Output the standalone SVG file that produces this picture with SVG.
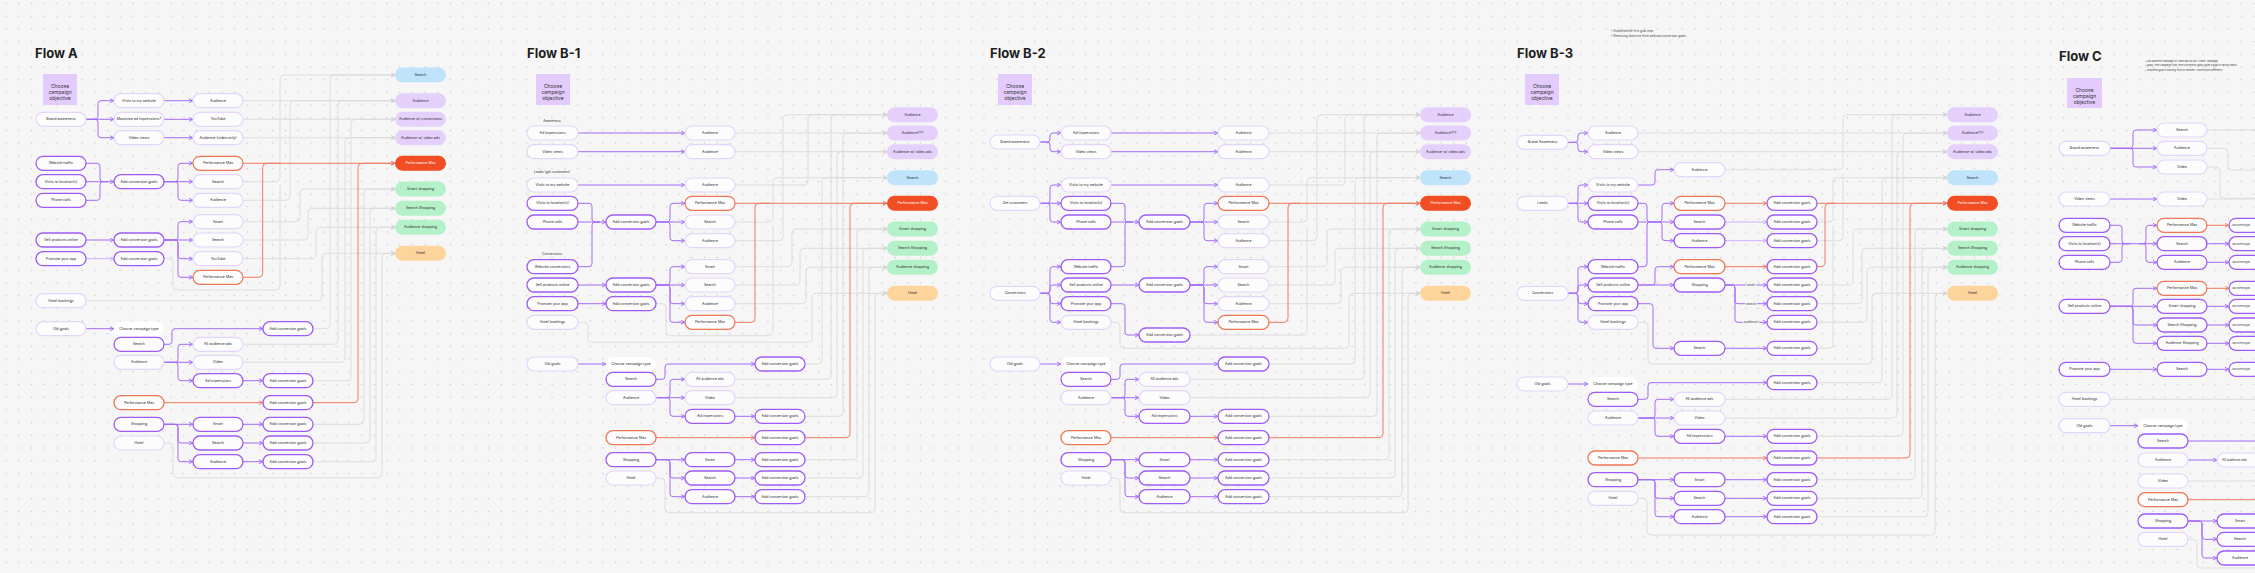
<svg xmlns="http://www.w3.org/2000/svg" width="2255" height="573" viewBox="0 0 2255 573">
<defs>
<pattern id="dots" x="-0.35" y="9.85" width="12.7" height="12.7" patternUnits="userSpaceOnUse"><circle cx="6.35" cy="6.35" r="0.75" fill="#c8c8c8"/></pattern>
<marker id="ap" viewBox="0 0 5 5" refX="4.6" refY="2.5" markerWidth="5" markerHeight="5" markerUnits="userSpaceOnUse" orient="auto"><path d="M0.6,0.5 L4.5,2.5 L0.6,4.5" fill="none" stroke="#a46cf7" stroke-width="0.9"/></marker>
<marker id="al" viewBox="0 0 5 5" refX="4.6" refY="2.5" markerWidth="5" markerHeight="5" markerUnits="userSpaceOnUse" orient="auto"><path d="M0.6,0.5 L4.5,2.5 L0.6,4.5" fill="none" stroke="#cdb0fb" stroke-width="0.9"/></marker>
<marker id="ao" viewBox="0 0 5 5" refX="4.6" refY="2.5" markerWidth="5" markerHeight="5" markerUnits="userSpaceOnUse" orient="auto"><path d="M0.6,0.5 L4.5,2.5 L0.6,4.5" fill="none" stroke="#f07a5c" stroke-width="0.9"/></marker>
<marker id="ag" viewBox="0 0 5 5" refX="4.6" refY="2.5" markerWidth="5" markerHeight="5" markerUnits="userSpaceOnUse" orient="auto"><path d="M0.6,0.5 L4.5,2.5 L0.6,4.5" fill="none" stroke="#cfcfcf" stroke-width="0.9"/></marker>
</defs>
<style>
.n rect{fill:#fcfcfd;stroke:#e3d5fc;stroke-width:1.2}
.b rect{fill:#fcfcfd;stroke:#9d5cf6;stroke-width:1.3}
.o rect{fill:#fcfcfd;stroke:#f07656;stroke-width:1.3}
.w rect{fill:#ffffff}
.lg rect{stroke:none}
.lb rect{fill:#bfe3fb}.lp rect{fill:#e5d0fc}.lr rect{fill:#f24e23}.lgn rect{fill:#b4f1c8}.lo rect{fill:#fdd59c}
.lr text{fill:#ffffff}
.obj rect{fill:#e3cbfd}
.obj text{font-family:Inter,'Liberation Sans',sans-serif;font-size:5px;fill:#333;text-anchor:middle}
text.t,g text{font-family:Inter,'Liberation Sans',sans-serif;font-size:3.6px;fill:#2b2b2b;text-anchor:middle;dominant-baseline:central}
g text.st{text-anchor:start}
g text.tiny{font-size:1.9px}
g text.sm{font-size:3.2px}
.title{font-family:Inter,'Liberation Sans',sans-serif;font-size:13px;font-weight:700;fill:#1e1e1e}
.note{font-family:Inter,'Liberation Sans',sans-serif;font-size:3px;fill:#444}
.note2{font-family:Inter,'Liberation Sans',sans-serif;font-size:2.4px;fill:#444}
.lbl{font-family:Inter,'Liberation Sans',sans-serif;font-size:3.4px;fill:#333;text-anchor:middle;dominant-baseline:central}
.sl{font-family:Inter,'Liberation Sans',sans-serif;font-size:3.2px;fill:#444;text-anchor:middle;dominant-baseline:central;stroke:#f6f6f6;stroke-width:2;paint-order:stroke}
.c path{fill:none}
.cp path{stroke:#a46cf7;stroke-width:1}
.cl path{stroke:#cdb0fb;stroke-width:1}
.co path{stroke:#f07a5c;stroke-width:1}
.cg path{stroke:#dadada;stroke-width:0.9}
</style>
<rect width="2255" height="573" fill="#f6f6f6"/>
<rect width="2255" height="573" fill="url(#dots)"/>

<!-- titles and notes -->
<text class="title" x="35" y="57.5">Flow A</text>
<text class="title" x="527" y="57.5">Flow B-1</text>
<text class="title" x="990" y="57.5">Flow B-2</text>
<text class="title" x="1517" y="57.5">Flow B-3</text>
<text class="title" x="2059" y="60.5">Flow C</text>
<text class="note" x="1611" y="32">• Simplified the first goal step</text>
<text class="note" x="1611" y="36.7">• Removing objective from website/conversion goals</text>
<text class="note2" x="2145" y="62">• call audience campaign w/ video ads as just "Video" campaign</text>
<text class="note2" x="2145" y="66.3">• goals, then campaign type, then conversion goals (goes a goal to narrow down)</text>
<text class="note2" x="2145" y="70.6">• simplified goals choosing visits to website / conversions differently</text>

<!-- ================= CONNECTORS ================= -->
<g id="connectors" class="c">
<!-- Flow A gray -->
<g class="cg" marker-end="url(#ag)">
<path d="M243 100.7 H395"/><path d="M243 119.3 H395"/><path d="M243 137.7 H395"/>
<path d="M243 181.7 H276 Q280 181.7 280 177.7 V79 Q280 75 284 75 H395"/>
<path d="M243 200.3 H286 Q290 200.3 290 196.3 V104.7 Q290 100.7 294 100.7 H395"/>
<path d="M243 221.7 H296 Q300 221.7 300 217.7 V193 Q300 189 304 189 H395"/>
<path d="M243 240 H304 Q308 240 308 236 V212.3 Q308 208.3 312 208.3 H395"/>
<path d="M243 258.7 H312 Q316 258.7 316 254.7 V231.3 Q316 227.3 320 227.3 H395"/>
<path d="M86 300.7 H318 Q322 300.7 322 296.7 V257.3 Q322 253.3 326 253.3 H395"/>
<path d="M313 328.7 H326 Q330 328.7 330 324.7 V79 Q330 75 334 75 H395"/>
<path d="M243 344.3 H334 Q338 344.3 338 340.3 V104.7 Q338 100.7 342 100.7 H395"/>
<path d="M243 362.3 H341 Q345 362.3 345 358.3 V141.7 Q345 137.7 349 137.7 H395"/>
<path d="M313 380.7 H347 Q351 380.7 351 376.7 V123.3 Q351 119.3 355 119.3 H395"/>
<path d="M313 424.3 H360 Q364 424.3 364 420.3 V193 Q364 189 368 189 H395"/>
<path d="M313 443 H366 Q370 443 370 439 V212.3 Q370 208.3 374 208.3 H395"/>
<path d="M313 461.7 H372 Q376 461.7 376 457.7 V231.3 Q376 227.3 380 227.3 H395"/>
<path d="M164 443 H169 Q173 443 173 447 V473.7 Q173 477.7 177 477.7 H378 Q382 477.7 382 473.7 V257.3 Q382 253.3 386 253.3 H395"/>
</g>
<g class="cg"><path d="M164 258.7 H169 Q173 258.7 173 262.7 V286 Q173 290 177 290 H276 Q280 290 280 286 V185"/></g>
<g class="co"><path d="M243 163.3 H395" marker-end="url(#ao)"/><path d="M243 277.3 H258.7 Q262.7 277.3 262.7 273.3 V167.3 Q262.7 163.3 266.7 163.3 H280"/><path d="M313 402.7 H354 Q358 402.7 358 398.7 V167.3 Q358 163.3 362 163.3 H395" marker-end="url(#ao)"/></g>
<!-- Flow A purple -->
<g class="cp" marker-end="url(#ap)">
<path d="M86 119.3 H95 Q98 119.3 98 116.3 V103.7 Q98 100.7 101 100.7 H114"/><path d="M86 119.3 H114"/><path d="M86 119.3 H95 Q98 119.3 98 122.3 V134.7 Q98 137.7 101 137.7 H114"/>
<path d="M164 100.7 H193"/><path d="M164 119.3 H193"/><path d="M164 137.7 H193"/>
<path d="M86 181.7 H114"/>
<path d="M164 181.7 H175 Q178 181.7 178 178.7 V166.3 Q178 163.3 181 163.3 H193"/><path d="M164 181.7 H193"/><path d="M164 181.7 H175 Q178 181.7 178 184.7 V197.3 Q178 200.3 181 200.3 H193"/>
<path d="M86 240 H114"/>
<path d="M164 240 H175 Q178 240 178 237 V224.7 Q178 221.7 181 221.7 H193"/><path d="M164 240 H193"/><path d="M164 240 H175 Q178 240 178 243 V255.7 Q178 258.7 181 258.7 H193"/><path d="M164 240 H175 Q178 240 178 243 V274.3 Q178 277.3 181 277.3 H193"/>
<path d="M86 328.7 H114"/>
<path d="M164 344.3 H169 Q172 344.3 172 341.3 V331.7 Q172 328.7 175 328.7 H263"/>
<path d="M164 362.3 H175 Q178 362.3 178 359.3 V347.3 Q178 344.3 181 344.3 H193"/><path d="M164 362.3 H193"/><path d="M164 362.3 H175 Q178 362.3 178 365.3 V377.7 Q178 380.7 181 380.7 H193"/>
<path d="M243 380.7 H263"/>
<path d="M164 424.3 H193"/><path d="M164 424.3 H175 Q178 424.3 178 427.3 V440 Q178 443 181 443 H193"/><path d="M164 424.3 H175 Q178 424.3 178 427.3 V458.7 Q178 461.7 181 461.7 H193"/>
<path d="M243 424.3 H263"/><path d="M243 443 H263"/><path d="M243 461.7 H263"/>
</g>
<g class="cp"><path d="M86 163.3 H97 Q100 163.3 100 166.3 V178.7 Q100 181.7 103 181.7 H108"/><path d="M86 200.3 H97 Q100 200.3 100 197.3 V184.7 Q100 181.7 103 181.7 H108"/></g>
<g class="cl"><path d="M86 258.7 H114" marker-end="url(#al)"/></g>
<g class="co"><path d="M164 402.7 H263" marker-end="url(#ao)"/></g>

<!-- Flow B-1 gray -->
<g class="cg" marker-end="url(#ag)">
<path d="M735 133 H887"/><path d="M735 151.7 H887"/>
<path d="M735 185 H804 Q808 185 808 181 V118.7 Q808 114.7 812 114.7 H887"/>
<path d="M735 222 H769 Q773 222 773 218 V181.7 Q773 177.7 777 177.7 H887"/>
<path d="M735 240.7 H779 Q783 240.7 783 236.7 V118.7 Q783 114.7 787 114.7 H887"/>
<path d="M735 266.7 H788 Q792 266.7 792 262.7 V233 Q792 229 796 229 H887"/>
<path d="M735 285 H796 Q800 285 800 281 V252.3 Q800 248.3 804 248.3 H887"/>
<path d="M735 303.7 H802 Q806 303.7 806 299.7 V271.3 Q806 267.3 810 267.3 H887"/>
<path d="M578 322.3 H584 Q588 322.3 588 326.3 V338.3 Q588 342.3 592 342.3 H808 Q812 342.3 812 338.3 V297.3 Q812 293.3 816 293.3 H887"/>
<path d="M805 364 H818 Q822 364 822 360 V181.7 Q822 177.7 826 177.7 H887"/>
<path d="M735 379.3 H827 Q831 379.3 831 375.3 V118.7 Q831 114.7 835 114.7 H887"/>
<path d="M735 397.7 H833 Q837 397.7 837 393.7 V155.7 Q837 151.7 841 151.7 H887"/>
<path d="M805 416.3 H839 Q843 416.3 843 412.3 V137 Q843 133 847 133 H887"/>
<path d="M805 459.7 H853 Q857 459.7 857 455.7 V233 Q857 229 861 229 H887"/>
<path d="M805 478 H859 Q863 478 863 474 V252.3 Q863 248.3 867 248.3 H887"/>
<path d="M805 496.7 H865 Q869 496.7 869 492.7 V271.3 Q869 267.3 873 267.3 H887"/>
<path d="M656 478 H661 Q665 478 665 482 V508.7 Q665 512.7 669 512.7 H871 Q875 512.7 875 508.7 V297.3 Q875 293.3 879 293.3 H887"/>
</g>
<g class="cg"><path d="M656 303.7 H662 Q666 303.7 666 307.7 V331.7 Q666 335.7 670 335.7 H769 Q773 335.7 773 331.7 V226"/></g>
<g class="co"><path d="M735 203.3 H887" marker-end="url(#ao)"/><path d="M735 322.3 H751 Q755 322.3 755 318.3 V207.3 Q755 203.3 759 203.3 H770"/><path d="M805 437.7 H846 Q850 437.7 850 433.7 V207.3 Q850 203.3 854 203.3 H887" marker-end="url(#ao)"/></g>
<!-- Flow B-1 purple -->
<g class="cp" marker-end="url(#ap)">
<path d="M578 133 H685"/><path d="M578 151.7 H685"/><path d="M578 185 H685"/>
<path d="M578 222 H606"/>
<path d="M656 222 H667 Q670 222 670 219 V206.3 Q670 203.3 673 203.3 H685"/><path d="M656 222 H685"/><path d="M656 222 H667 Q670 222 670 225 V237.7 Q670 240.7 673 240.7 H685"/>
<path d="M578 285 H606"/>
<path d="M656 285 H667 Q670 285 670 282 V269.7 Q670 266.7 673 266.7 H685"/><path d="M656 285 H685"/><path d="M656 285 H667 Q670 285 670 288 V300.7 Q670 303.7 673 303.7 H685"/><path d="M656 285 H667 Q670 285 670 288 V319.3 Q670 322.3 673 322.3 H685"/>
<path d="M578 303.7 H606"/>
<path d="M578 364 H606"/>
<path d="M656 379.3 H662 Q665 379.3 665 376.3 V367 Q665 364 668 364 H755"/>
<path d="M656 397.7 H667 Q670 397.7 670 394.7 V382.3 Q670 379.3 673 379.3 H685"/><path d="M656 397.7 H685"/><path d="M656 397.7 H667 Q670 397.7 670 400.7 V413.3 Q670 416.3 673 416.3 H685"/>
<path d="M735 416.3 H755"/>
<path d="M656 459.7 H685"/><path d="M656 459.7 H667 Q670 459.7 670 462.7 V475 Q670 478 673 478 H685"/><path d="M656 459.7 H667 Q670 459.7 670 462.7 V493.7 Q670 496.7 673 496.7 H685"/>
<path d="M735 459.7 H755"/><path d="M735 478 H755"/><path d="M735 496.7 H755"/>
</g>
<g class="cp"><path d="M578 203.3 H589 Q592 203.3 592 206.3 V219 Q592 222 595 222 H600"/><path d="M578 266.7 H589 Q592 266.7 592 263.7 V225 Q592 222 595 222 H600"/></g>
<g class="co"><path d="M656 437.7 H755" marker-end="url(#ao)"/></g>

<!-- Flow B-2 gray -->
<g class="cg" marker-end="url(#ag)">
<path d="M1269 133 H1420"/><path d="M1269 151.7 H1420"/>
<path d="M1269 185 H1341 Q1345 185 1345 181 V118.7 Q1345 114.7 1349 114.7 H1420"/>
<path d="M1269 222 H1303 Q1307 222 1307 218 V181.7 Q1307 177.7 1311 177.7 H1420"/>
<path d="M1269 240.7 H1313 Q1317 240.7 1317 236.7 V118.7 Q1317 114.7 1321 114.7 H1420"/>
<path d="M1269 266.7 H1323 Q1327 266.7 1327 262.7 V233 Q1327 229 1331 229 H1420"/>
<path d="M1269 285 H1331 Q1335 285 1335 281 V252.3 Q1335 248.3 1339 248.3 H1420"/>
<path d="M1269 303.7 H1337 Q1341 303.7 1341 299.7 V271.3 Q1341 267.3 1345 267.3 H1420"/>
<path d="M1111 322.3 H1116 Q1120 322.3 1120 326.3 V344.3 Q1120 348.3 1124 348.3 H1345 Q1349 348.3 1349 344.3 V297.3 Q1349 293.3 1353 293.3 H1420"/>
<path d="M1269 364 H1351 Q1355 364 1355 360 V181.7 Q1355 177.7 1359 177.7 H1420"/>
<path d="M1190 379.3 H1360 Q1364 379.3 1364 375.3 V118.7 Q1364 114.7 1368 114.7 H1420"/>
<path d="M1190 397.7 H1366 Q1370 397.7 1370 393.7 V155.7 Q1370 151.7 1374 151.7 H1420"/>
<path d="M1269 416.3 H1373 Q1377 416.3 1377 412.3 V137 Q1377 133 1381 133 H1420"/>
<path d="M1269 459.7 H1385 Q1389 459.7 1389 455.7 V233 Q1389 229 1393 229 H1420"/>
<path d="M1269 478 H1391 Q1395 478 1395 474 V252.3 Q1395 248.3 1399 248.3 H1420"/>
<path d="M1269 496.7 H1398 Q1402 496.7 1402 492.7 V271.3 Q1402 267.3 1406 267.3 H1420"/>
<path d="M1111 478 H1116 Q1120 478 1120 482 V508.7 Q1120 512.7 1124 512.7 H1404 Q1408 512.7 1408 508.7 V297.3 Q1408 293.3 1412 293.3 H1420"/>
</g>
<g class="cg"><path d="M1190 335 H1303 Q1307 335 1307 331 V226"/></g>
<g class="co"><path d="M1269 203.3 H1420" marker-end="url(#ao)"/><path d="M1269 322.3 H1284 Q1288 322.3 1288 318.3 V207.3 Q1288 203.3 1292 203.3 H1300"/><path d="M1269 437.7 H1379 Q1383 437.7 1383 433.7 V207.3 Q1383 203.3 1387 203.3 H1420" marker-end="url(#ao)"/></g>
<!-- Flow B-2 purple -->
<g class="cp" marker-end="url(#ap)">
<path d="M1040 142 H1047 Q1050 142 1050 139 V136 Q1050 133 1053 133 H1061"/><path d="M1040 142 H1047 Q1050 142 1050 145 V148.7 Q1050 151.7 1053 151.7 H1061"/>
<path d="M1111 133 H1218"/><path d="M1111 151.7 H1218"/>
<path d="M1040 203.3 H1047 Q1050 203.3 1050 200.3 V188 Q1050 185 1053 185 H1061"/><path d="M1040 203.3 H1061"/><path d="M1040 203.3 H1047 Q1050 203.3 1050 206.3 V219 Q1050 222 1053 222 H1061"/>
<path d="M1111 185 H1218"/>
<path d="M1111 222 H1139"/>
<path d="M1190 222 H1201 Q1204 222 1204 219 V206.3 Q1204 203.3 1207 203.3 H1218"/><path d="M1190 222 H1218"/><path d="M1190 222 H1201 Q1204 222 1204 225 V237.7 Q1204 240.7 1207 240.7 H1218"/>
<path d="M1040 293.3 H1047 Q1050 293.3 1050 290.3 V269.7 Q1050 266.7 1053 266.7 H1061"/><path d="M1040 293.3 H1047 Q1050 293.3 1050 290.3 V288 Q1050 285 1053 285 H1061"/><path d="M1040 293.3 H1047 Q1050 293.3 1050 296.3 V300.7 Q1050 303.7 1053 303.7 H1061"/><path d="M1040 293.3 H1047 Q1050 293.3 1050 296.3 V319.3 Q1050 322.3 1053 322.3 H1061"/>
<path d="M1111 285 H1139"/>
<path d="M1190 285 H1201 Q1204 285 1204 282 V269.7 Q1204 266.7 1207 266.7 H1218"/><path d="M1190 285 H1218"/><path d="M1190 285 H1201 Q1204 285 1204 288 V300.7 Q1204 303.7 1207 303.7 H1218"/><path d="M1190 285 H1201 Q1204 285 1204 288 V319.3 Q1204 322.3 1207 322.3 H1218"/>
<path d="M1111 303.7 H1122 Q1125 303.7 1125 306.7 V332 Q1125 335 1128 335 H1139"/>
<path d="M1040 364 H1061"/>
<path d="M1111 379.3 H1117 Q1120 379.3 1120 376.3 V367 Q1120 364 1123 364 H1218"/>
<path d="M1111 397.7 H1122 Q1125 397.7 1125 394.7 V382.3 Q1125 379.3 1128 379.3 H1139"/><path d="M1111 397.7 H1139"/><path d="M1111 397.7 H1122 Q1125 397.7 1125 400.7 V413.3 Q1125 416.3 1128 416.3 H1139"/>
<path d="M1190 416.3 H1218"/>
<path d="M1111 459.7 H1139"/><path d="M1111 459.7 H1122 Q1125 459.7 1125 462.7 V475 Q1125 478 1128 478 H1139"/><path d="M1111 459.7 H1122 Q1125 459.7 1125 462.7 V493.7 Q1125 496.7 1128 496.7 H1139"/>
<path d="M1190 459.7 H1218"/><path d="M1190 478 H1218"/><path d="M1190 496.7 H1218"/>
</g>
<g class="cp"><path d="M1111 203.3 H1122 Q1125 203.3 1125 206.3 V219 Q1125 222 1128 222 H1133"/><path d="M1111 266.7 H1122 Q1125 266.7 1125 263.7 V225 Q1125 222 1128 222 H1133"/></g>
<g class="co"><path d="M1111 437.7 H1218" marker-end="url(#ao)"/></g>

<!-- Flow B-3 gray -->
<g class="cg" marker-end="url(#ag)">
<path d="M1638 133 H1947"/><path d="M1638 151.7 H1947"/>
<path d="M1725 169.7 H1839 Q1843 169.7 1843 165.7 V118.7 Q1843 114.7 1847 114.7 H1947"/>
<path d="M1817 222 H1829 Q1833 222 1833 218 V181.7 Q1833 177.7 1837 177.7 H1947"/>
<path d="M1817 285 H1849 Q1853 285 1853 281 V233 Q1853 229 1857 229 H1947"/>
<path d="M1817 303.7 H1858 Q1862 303.7 1862 299.7 V252.3 Q1862 248.3 1866 248.3 H1947"/>
<path d="M1817 322.3 H1863 Q1867 322.3 1867 318.3 V271.3 Q1867 267.3 1871 267.3 H1947"/>
<path d="M1638 322.3 H1644 Q1648 322.3 1648 326.3 V360 Q1648 364 1652 364 H1868 Q1872 364 1872 360 V297.3 Q1872 293.3 1876 293.3 H1947"/>
<path d="M1817 382.7 H1878 Q1882 382.7 1882 378.7 V181.7 Q1882 177.7 1886 177.7 H1947"/>
<path d="M1725 399.3 H1888 Q1892 399.3 1892 395.3 V118.7 Q1892 114.7 1896 114.7 H1947"/>
<path d="M1725 418 H1893 Q1897 418 1897 414 V155.7 Q1897 151.7 1901 151.7 H1947"/>
<path d="M1817 436.3 H1899 Q1903 436.3 1903 432.3 V137 Q1903 133 1907 133 H1947"/>
<path d="M1817 479.7 H1911 Q1915 479.7 1915 475.7 V233 Q1915 229 1919 229 H1947"/>
<path d="M1817 498.3 H1918 Q1922 498.3 1922 494.3 V252.3 Q1922 248.3 1926 248.3 H1947"/>
<path d="M1817 516.7 H1924 Q1928 516.7 1928 512.7 V271.3 Q1928 267.3 1932 267.3 H1947"/>
<path d="M1638 498.3 H1643 Q1647 498.3 1647 502.3 V531 Q1647 535 1651 535 H1931 Q1935 535 1935 531 V297.3 Q1935 293.3 1939 293.3 H1947"/>
</g>
<g class="cg"><path d="M1817 240.7 H1839 Q1843 240.7 1843 236.7 V173"/><path d="M1817 348.3 H1829 Q1833 348.3 1833 344.3 V226"/></g>
<g class="co"><path d="M1817 203.3 H1947" marker-end="url(#ao)"/><path d="M1817 266.7 H1821 Q1825 266.7 1825 262.7 V207.3 Q1825 203.3 1829 203.3 H1835"/><path d="M1817 458 H1906 Q1910 458 1910 454 V207.3 Q1910 203.3 1914 203.3 H1947" marker-end="url(#ao)"/></g>
<!-- Flow B-3 purple -->
<g class="cp" marker-end="url(#ap)">
<path d="M1568 142.3 H1575 Q1578 142.3 1578 139.3 V136 Q1578 133 1581 133 H1588"/><path d="M1568 142.3 H1575 Q1578 142.3 1578 145.3 V148.7 Q1578 151.7 1581 151.7 H1588"/>
<path d="M1568 203.3 H1575 Q1578 203.3 1578 200.3 V188 Q1578 185 1581 185 H1588"/><path d="M1568 203.3 H1588"/><path d="M1568 203.3 H1575 Q1578 203.3 1578 206.3 V219 Q1578 222 1581 222 H1588"/>
<path d="M1638 185 H1652 Q1655 185 1655 182 V172.7 Q1655 169.7 1658 169.7 H1674"/>
<path d="M1638 222 H1674"/>
<path d="M1655 222 H1659 Q1662 222 1662 219 V206.3 Q1662 203.3 1665 203.3 H1674"/><path d="M1655 222 H1659 Q1662 222 1662 225 V237.7 Q1662 240.7 1665 240.7 H1674"/>
<path d="M1568 293.3 H1575 Q1578 293.3 1578 290.3 V269.7 Q1578 266.7 1581 266.7 H1588"/><path d="M1568 293.3 H1575 Q1578 293.3 1578 290.3 V288 Q1578 285 1581 285 H1588"/><path d="M1568 293.3 H1575 Q1578 293.3 1578 296.3 V300.7 Q1578 303.7 1581 303.7 H1588"/><path d="M1568 293.3 H1575 Q1578 293.3 1578 296.3 V319.3 Q1578 322.3 1581 322.3 H1588"/>
<path d="M1638 285 H1652 Q1655 285 1655 282 V269.7 Q1655 266.7 1658 266.7 H1674"/><path d="M1638 285 H1674"/>
<path d="M1725 285 H1767"/><path d="M1725 285 H1732 Q1735 285 1735 288 V300.7 Q1735 303.7 1738 303.7 H1767"/><path d="M1725 285 H1732 Q1735 285 1735 288 V319.3 Q1735 322.3 1738 322.3 H1767"/>
<path d="M1638 303.7 H1650 Q1653 303.7 1653 306.7 V345.3 Q1653 348.3 1656 348.3 H1674"/>
<path d="M1725 348.3 H1767"/>
<path d="M1568 384 H1588"/>
<path d="M1638 399.3 H1645 Q1648 399.3 1648 396.3 V385.7 Q1648 382.7 1651 382.7 H1767"/>
<path d="M1638 418 H1652 Q1655 418 1655 415 V402.3 Q1655 399.3 1658 399.3 H1674"/><path d="M1638 418 H1674"/><path d="M1638 418 H1652 Q1655 418 1655 421 V433.3 Q1655 436.3 1658 436.3 H1674"/>
<path d="M1725 436.3 H1767"/>
<path d="M1638 479.7 H1674"/><path d="M1638 479.7 H1652 Q1655 479.7 1655 482.7 V495.3 Q1655 498.3 1658 498.3 H1674"/><path d="M1638 479.7 H1652 Q1655 479.7 1655 482.7 V513.7 Q1655 516.7 1658 516.7 H1674"/>
<path d="M1725 479.7 H1767"/><path d="M1725 498.3 H1767"/><path d="M1725 516.7 H1767"/>
</g>
<g class="cp"><path d="M1638 203.3 H1644 Q1647 203.3 1647 206.3 V219 Q1647 222 1650 222 H1655"/><path d="M1638 266.7 H1644 Q1647 266.7 1647 263.7 V225 Q1647 222 1650 222 H1655"/></g>
<g class="cl" marker-end="url(#al)"><path d="M1725 222 H1767"/><path d="M1725 240.7 H1767"/></g>
<g class="co" marker-end="url(#ao)"><path d="M1725 203.3 H1767"/><path d="M1725 266.7 H1767"/><path d="M1638 458 H1767"/></g>

<!-- Flow C -->
<g class="cg">
<path d="M2207 130 H2255"/>
<path d="M2207 148.3 H2224 Q2228 148.3 2228 152.3 V166 Q2228 170 2232 170 H2255"/>
<path d="M2207 167 H2216 Q2220 167 2220 171 V194.3 Q2220 198.3 2224 198.3 H2255"/>
<path d="M2207 199 H2255"/>
<path d="M2110 399.3 H2255"/>
<path d="M2188 481 H2255"/>
<path d="M2188 539.3 H2193 Q2197 539.3 2197 543.3 V564 Q2197 568 2201 568 H2255"/>
</g>
<g class="cp" marker-end="url(#ap)">
<path d="M2110 148.3 H2130 Q2133 148.3 2133 145.3 V133 Q2133 130 2136 130 H2157"/><path d="M2110 148.3 H2157"/><path d="M2110 148.3 H2130 Q2133 148.3 2133 151.3 V164 Q2133 167 2136 167 H2157"/>
<path d="M2110 199 H2157"/>
<path d="M2110 243.7 H2157"/>
<path d="M2140 243.7 H2143 Q2146 243.7 2146 240.7 V228.3 Q2146 225.3 2149 225.3 H2157"/><path d="M2140 243.7 H2143 Q2146 243.7 2146 246.7 V259.3 Q2146 262.3 2149 262.3 H2157"/>
<path d="M2207 243.7 H2229"/><path d="M2207 262.3 H2229"/>
<path d="M2110 306.3 H2130 Q2133 306.3 2133 303.3 V291.3 Q2133 288.3 2136 288.3 H2157"/><path d="M2110 306.3 H2157"/><path d="M2110 306.3 H2130 Q2133 306.3 2133 309.3 V322 Q2133 325 2136 325 H2157"/><path d="M2110 306.3 H2130 Q2133 306.3 2133 309.3 V340.3 Q2133 343.3 2136 343.3 H2157"/>
<path d="M2207 306.3 H2229"/><path d="M2207 325 H2229"/><path d="M2207 343.3 H2229"/>
<path d="M2110 369.3 H2157"/><path d="M2207 369.3 H2229"/>
<path d="M2110 425.7 H2138"/>
<path d="M2188 460 H2217"/>
<path d="M2188 521 H2217"/><path d="M2188 521 H2199 Q2202 521 2202 524 V536.3 Q2202 539.3 2205 539.3 H2217"/><path d="M2188 521 H2199 Q2202 521 2202 524 V555 Q2202 558 2205 558 H2217"/>
</g>
<g class="cp"><path d="M2110 225.3 H2119 Q2122 225.3 2122 228.3 V240.7 Q2122 243.7 2125 243.7 H2130"/><path d="M2110 262.3 H2119 Q2122 262.3 2122 259.3 V246.7 Q2122 243.7 2125 243.7 H2130"/><path d="M2188 441 H2255"/></g>
<g class="co"><path d="M2207 225.3 H2229" marker-end="url(#ao)"/><path d="M2207 288.3 H2229" marker-end="url(#ao)"/><path d="M2188 499.7 H2255"/></g>
</g>

<!-- shopping fork labels B-3 -->
<text class="sl" x="1751" y="285">smart</text>
<text class="sl" x="1751" y="303.7">search</text>
<text class="sl" x="1751" y="322.3">audience</text>
<!-- B-1 section labels -->
<text class="lbl" x="552" y="120.7">Awareness</text>
<text class="lbl" x="552" y="172.3">Leads (get customers)</text>
<text class="lbl" x="552" y="253.7">Conversions</text>

<!-- ================= NODES ================= -->
<!-- objective boxes -->
<g id="a-obj" class="obj"><rect x="43" y="74" width="34" height="31"/><text x="60" y="86">Choose</text><text x="60" y="92">campaign</text><text x="60" y="98">objective</text></g>
<g id="b1-obj" class="obj"><rect x="536" y="74" width="34" height="31"/><text x="553" y="86">Choose</text><text x="553" y="92">campaign</text><text x="553" y="98">objective</text></g>
<g id="b2-obj" class="obj"><rect x="998" y="74" width="34" height="31"/><text x="1015" y="86">Choose</text><text x="1015" y="92">campaign</text><text x="1015" y="98">objective</text></g>
<g id="b3-obj" class="obj"><rect x="1525" y="74" width="34" height="31"/><text x="1542" y="86">Choose</text><text x="1542" y="92">campaign</text><text x="1542" y="98">objective</text></g>
<g id="c-obj" class="obj"><rect x="2067" y="78" width="35" height="30"/><text x="2084.5" y="89.5">Choose</text><text x="2084.5" y="95.5">campaign</text><text x="2084.5" y="101.5">objective</text></g>

<!-- Flow A nodes -->
<g id="a1" class="n"><rect x="36" y="112.3" width="50" height="14" rx="7"/><text x="61" y="119.3">Brand awareness</text></g>
<g id="a2" class="b"><rect x="36" y="156.3" width="50" height="14" rx="7"/><text x="61" y="163.3">Website traffic</text></g>
<g id="a3" class="b"><rect x="36" y="174.7" width="50" height="14" rx="7"/><text x="61" y="181.7">Visits to location(s)</text></g>
<g id="a4" class="b"><rect x="36" y="193.3" width="50" height="14" rx="7"/><text x="61" y="200.3">Phone calls</text></g>
<g id="a5" class="b"><rect x="36" y="233" width="50" height="14" rx="7"/><text x="61" y="240">Sell products online</text></g>
<g id="a6" class="b"><rect x="36" y="251.7" width="50" height="14" rx="7"/><text x="61" y="258.7">Promote your app</text></g>
<g id="a7" class="n"><rect x="36" y="293.7" width="50" height="14" rx="7"/><text x="61" y="300.7">Hotel bookings</text></g>
<g id="a8" class="n"><rect x="36" y="321.7" width="50" height="14" rx="7"/><text x="61" y="328.7">Old goals</text></g>
<g id="a9" class="n"><rect x="114" y="93.7" width="50" height="14" rx="7"/><text x="139" y="100.7">Visits to my website</text></g>
<g id="a10" class="n"><rect x="114" y="112.3" width="50" height="14" rx="7"/><text x="139" y="119.3">Maximize ad impressions*</text></g>
<g id="a11" class="n"><rect x="114" y="130.7" width="50" height="14" rx="7"/><text x="139" y="137.7">Video views</text></g>
<g id="a12" class="b"><rect x="114" y="174.7" width="50" height="14" rx="7"/><text x="139" y="181.7">Add conversion goals</text></g>
<g id="a13" class="b"><rect x="114" y="233" width="50" height="14" rx="7"/><text x="139" y="240">Add conversion goals</text></g>
<g id="a14" class="b"><rect x="114" y="251.7" width="50" height="14" rx="7"/><text x="139" y="258.7">Add conversion goals</text></g>
<g id="a15" class="w"><rect x="114" y="321.7" width="50" height="14" rx="7"/><text x="139" y="328.7">Choose campaign type</text></g>
<g id="a16" class="b"><rect x="114" y="337.3" width="50" height="14" rx="7"/><text x="139" y="344.3">Search</text></g>
<g id="a17" class="n"><rect x="114" y="355.3" width="50" height="14" rx="7"/><text x="139" y="362.3">Audience</text></g>
<g id="a18" class="o"><rect x="114" y="395.7" width="50" height="14" rx="7"/><text x="139" y="402.7">Performance Max</text></g>
<g id="a19" class="b"><rect x="114" y="417.3" width="50" height="14" rx="7"/><text x="139" y="424.3">Shopping</text></g>
<g id="a20" class="n"><rect x="114" y="436" width="50" height="14" rx="7"/><text x="139" y="443">Hotel</text></g>
<g id="a21" class="n"><rect x="193" y="93.7" width="50" height="14" rx="7"/><text x="218" y="100.7">Audience</text></g>
<g id="a22" class="n"><rect x="193" y="112.3" width="50" height="14" rx="7"/><text x="218" y="119.3">YouTube</text></g>
<g id="a23" class="n"><rect x="193" y="130.7" width="50" height="14" rx="7"/><text x="218" y="137.7">Audience (video only)</text></g>
<g id="a24" class="o"><rect x="193" y="156.3" width="50" height="14" rx="7"/><text x="218" y="163.3">Performance Max</text></g>
<g id="a25" class="n"><rect x="193" y="174.7" width="50" height="14" rx="7"/><text x="218" y="181.7">Search</text></g>
<g id="a26" class="n"><rect x="193" y="193.3" width="50" height="14" rx="7"/><text x="218" y="200.3">Audience</text></g>
<g id="a27" class="n"><rect x="193" y="214.7" width="50" height="14" rx="7"/><text x="218" y="221.7">Smart</text></g>
<g id="a28" class="n"><rect x="193" y="233" width="50" height="14" rx="7"/><text x="218" y="240">Search</text></g>
<g id="a29" class="n"><rect x="193" y="251.7" width="50" height="14" rx="7"/><text x="218" y="258.7">YouTube</text></g>
<g id="a30" class="o"><rect x="193" y="270.3" width="50" height="14" rx="7"/><text x="218" y="277.3">Performance Max</text></g>
<g id="a31" class="n"><rect x="193" y="337.3" width="50" height="14" rx="7"/><text x="218" y="344.3">All audience ads</text></g>
<g id="a32" class="n"><rect x="193" y="355.3" width="50" height="14" rx="7"/><text x="218" y="362.3">Video</text></g>
<g id="a33" class="b"><rect x="193" y="373.7" width="50" height="14" rx="7"/><text x="218" y="380.7">Ad impressions</text></g>
<g id="a34" class="b"><rect x="193" y="417.3" width="50" height="14" rx="7"/><text x="218" y="424.3">Smart</text></g>
<g id="a35" class="b"><rect x="193" y="436" width="50" height="14" rx="7"/><text x="218" y="443">Search</text></g>
<g id="a36" class="b"><rect x="193" y="454.7" width="50" height="14" rx="7"/><text x="218" y="461.7">Audience</text></g>
<g id="a37" class="b"><rect x="263" y="321.7" width="50" height="14" rx="7"/><text x="288" y="328.7">Add conversion goals</text></g>
<g id="a38" class="b"><rect x="263" y="373.7" width="50" height="14" rx="7"/><text x="288" y="380.7">Add conversion goals</text></g>
<g id="a39" class="b"><rect x="263" y="395.7" width="50" height="14" rx="7"/><text x="288" y="402.7">Add conversion goals</text></g>
<g id="a40" class="b"><rect x="263" y="417.3" width="50" height="14" rx="7"/><text x="288" y="424.3">Add conversion goals</text></g>
<g id="a41" class="b"><rect x="263" y="436" width="50" height="14" rx="7"/><text x="288" y="443">Add conversion goals</text></g>
<g id="a42" class="b"><rect x="263" y="454.7" width="50" height="14" rx="7"/><text x="288" y="461.7">Add conversion goals</text></g>
<!-- Flow A legend -->
<g id="a-l1" class="lg lb"><rect x="395" y="67.5" width="51" height="15" rx="7.5"/><text x="420.5" y="75">Search</text></g>
<g id="a-l2" class="lg lp"><rect x="395" y="93.2" width="51" height="15" rx="7.5"/><text x="420.5" y="100.7">Audience</text></g>
<g id="a-l3" class="lg lp"><rect x="395" y="111.8" width="51" height="15" rx="7.5"/><text x="420.5" y="119.3">Audience w/ conversions</text></g>
<g id="a-l4" class="lg lp"><rect x="395" y="130.2" width="51" height="15" rx="7.5"/><text x="420.5" y="137.7">Audience w/ video ads</text></g>
<g id="a-l5" class="lg lr"><rect x="395" y="155.8" width="51" height="15" rx="7.5"/><text x="420.5" y="163.3">Performance Max</text></g>
<g id="a-l6" class="lg lgn"><rect x="395" y="181.5" width="51" height="15" rx="7.5"/><text x="420.5" y="189">Smart shopping</text></g>
<g id="a-l7" class="lg lgn"><rect x="395" y="200.8" width="51" height="15" rx="7.5"/><text x="420.5" y="208.3">Search Shopping</text></g>
<g id="a-l8" class="lg lgn"><rect x="395" y="219.8" width="51" height="15" rx="7.5"/><text x="420.5" y="227.3">Audience shopping</text></g>
<g id="a-l9" class="lg lo"><rect x="395" y="245.8" width="51" height="15" rx="7.5"/><text x="420.5" y="253.3">Hotel</text></g>

<!-- Flow B-1 nodes -->
<g id="b1-1" class="n"><rect x="527" y="126" width="51" height="14" rx="7"/><text x="552.5" y="133">Ad impressions</text></g>
<g id="b1-2" class="n"><rect x="527" y="144.7" width="51" height="14" rx="7"/><text x="552.5" y="151.7">Video views</text></g>
<g id="b1-3" class="n"><rect x="527" y="178" width="51" height="14" rx="7"/><text x="552.5" y="185">Visits to my website</text></g>
<g id="b1-4" class="b"><rect x="527" y="196.3" width="51" height="14" rx="7"/><text x="552.5" y="203.3">Visits to location(s)</text></g>
<g id="b1-5" class="b"><rect x="527" y="215" width="51" height="14" rx="7"/><text x="552.5" y="222">Phone calls</text></g>
<g id="b1-6" class="b"><rect x="527" y="259.7" width="51" height="14" rx="7"/><text x="552.5" y="266.7">Website conversions</text></g>
<g id="b1-7" class="b"><rect x="527" y="278" width="51" height="14" rx="7"/><text x="552.5" y="285">Sell products online</text></g>
<g id="b1-8" class="b"><rect x="527" y="296.7" width="51" height="14" rx="7"/><text x="552.5" y="303.7">Promote your app</text></g>
<g id="b1-9" class="n"><rect x="527" y="315.3" width="51" height="14" rx="7"/><text x="552.5" y="322.3">Hotel bookings</text></g>
<g id="b1-10" class="n"><rect x="527" y="357" width="51" height="14" rx="7"/><text x="552.5" y="364">Old goals</text></g>
<g id="b1-11" class="b"><rect x="606" y="215" width="50" height="14" rx="7"/><text x="631" y="222">Add conversion goals</text></g>
<g id="b1-12" class="b"><rect x="606" y="278" width="50" height="14" rx="7"/><text x="631" y="285">Add conversion goals</text></g>
<g id="b1-13" class="b"><rect x="606" y="296.7" width="50" height="14" rx="7"/><text x="631" y="303.7">Add conversion goals</text></g>
<g id="b1-14" class="w"><rect x="606" y="357" width="50" height="14" rx="7"/><text x="631" y="364">Choose campaign type</text></g>
<g id="b1-15" class="b"><rect x="606" y="372.3" width="50" height="14" rx="7"/><text x="631" y="379.3">Search</text></g>
<g id="b1-16" class="n"><rect x="606" y="390.7" width="50" height="14" rx="7"/><text x="631" y="397.7">Audience</text></g>
<g id="b1-17" class="o"><rect x="606" y="430.7" width="50" height="14" rx="7"/><text x="631" y="437.7">Performance Max</text></g>
<g id="b1-18" class="b"><rect x="606" y="452.7" width="50" height="14" rx="7"/><text x="631" y="459.7">Shopping</text></g>
<g id="b1-19" class="n"><rect x="606" y="471" width="50" height="14" rx="7"/><text x="631" y="478">Hotel</text></g>
<g id="b1-20" class="n"><rect x="685" y="126" width="50" height="14" rx="7"/><text x="710" y="133">Audience</text></g>
<g id="b1-21" class="n"><rect x="685" y="144.7" width="50" height="14" rx="7"/><text x="710" y="151.7">Audience</text></g>
<g id="b1-22" class="n"><rect x="685" y="178" width="50" height="14" rx="7"/><text x="710" y="185">Audience</text></g>
<g id="b1-23" class="o"><rect x="685" y="196.3" width="50" height="14" rx="7"/><text x="710" y="203.3">Performance Max</text></g>
<g id="b1-24" class="n"><rect x="685" y="215" width="50" height="14" rx="7"/><text x="710" y="222">Search</text></g>
<g id="b1-25" class="n"><rect x="685" y="233.7" width="50" height="14" rx="7"/><text x="710" y="240.7">Audience</text></g>
<g id="b1-26" class="n"><rect x="685" y="259.7" width="50" height="14" rx="7"/><text x="710" y="266.7">Smart</text></g>
<g id="b1-27" class="n"><rect x="685" y="278" width="50" height="14" rx="7"/><text x="710" y="285">Search</text></g>
<g id="b1-28" class="n"><rect x="685" y="296.7" width="50" height="14" rx="7"/><text x="710" y="303.7">Audience</text></g>
<g id="b1-29" class="o"><rect x="685" y="315.3" width="50" height="14" rx="7"/><text x="710" y="322.3">Performance Max</text></g>
<g id="b1-30" class="n"><rect x="685" y="372.3" width="50" height="14" rx="7"/><text x="710" y="379.3">All audience ads</text></g>
<g id="b1-31" class="n"><rect x="685" y="390.7" width="50" height="14" rx="7"/><text x="710" y="397.7">Video</text></g>
<g id="b1-32" class="b"><rect x="685" y="409.3" width="50" height="14" rx="7"/><text x="710" y="416.3">Ad impressions</text></g>
<g id="b1-33" class="b"><rect x="685" y="452.7" width="50" height="14" rx="7"/><text x="710" y="459.7">Smart</text></g>
<g id="b1-34" class="b"><rect x="685" y="471" width="50" height="14" rx="7"/><text x="710" y="478">Search</text></g>
<g id="b1-35" class="b"><rect x="685" y="489.7" width="50" height="14" rx="7"/><text x="710" y="496.7">Audience</text></g>
<g id="b1-36" class="b"><rect x="755" y="357" width="50" height="14" rx="7"/><text x="780" y="364">Add conversion goals</text></g>
<g id="b1-37" class="b"><rect x="755" y="409.3" width="50" height="14" rx="7"/><text x="780" y="416.3">Add conversion goals</text></g>
<g id="b1-38" class="b"><rect x="755" y="430.7" width="50" height="14" rx="7"/><text x="780" y="437.7">Add conversion goals</text></g>
<g id="b1-39" class="b"><rect x="755" y="452.7" width="50" height="14" rx="7"/><text x="780" y="459.7">Add conversion goals</text></g>
<g id="b1-40" class="b"><rect x="755" y="471" width="50" height="14" rx="7"/><text x="780" y="478">Add conversion goals</text></g>
<g id="b1-41" class="b"><rect x="755" y="489.7" width="50" height="14" rx="7"/><text x="780" y="496.7">Add conversion goals</text></g>
<!-- B-1 legend -->
<g id="b1-l1" class="lg lp"><rect x="887" y="107.2" width="51" height="15" rx="7.5"/><text x="912.5" y="114.7">Audience</text></g>
<g id="b1-l2" class="lg lp"><rect x="887" y="125.5" width="51" height="15" rx="7.5"/><text x="912.5" y="133">Audience???</text></g>
<g id="b1-l3" class="lg lp"><rect x="887" y="144.2" width="51" height="15" rx="7.5"/><text x="912.5" y="151.7">Audience w/ video ads</text></g>
<g id="b1-l4" class="lg lb"><rect x="887" y="170.2" width="51" height="15" rx="7.5"/><text x="912.5" y="177.7">Search</text></g>
<g id="b1-l5" class="lg lr"><rect x="887" y="195.8" width="51" height="15" rx="7.5"/><text x="912.5" y="203.3">Performance Max</text></g>
<g id="b1-l6" class="lg lgn"><rect x="887" y="221.5" width="51" height="15" rx="7.5"/><text x="912.5" y="229">Smart shopping</text></g>
<g id="b1-l7" class="lg lgn"><rect x="887" y="240.8" width="51" height="15" rx="7.5"/><text x="912.5" y="248.3">Search Shopping</text></g>
<g id="b1-l8" class="lg lgn"><rect x="887" y="259.8" width="51" height="15" rx="7.5"/><text x="912.5" y="267.3">Audience shopping</text></g>
<g id="b1-l9" class="lg lo"><rect x="887" y="285.8" width="51" height="15" rx="7.5"/><text x="912.5" y="293.3">Hotel</text></g>

<!-- Flow B-2 nodes -->
<g id="b2-1" class="n"><rect x="990" y="135" width="50" height="14" rx="7"/><text x="1015" y="142">Brand awareness</text></g>
<g id="b2-2" class="n"><rect x="990" y="196.3" width="50" height="14" rx="7"/><text x="1015" y="203.3">Get customers</text></g>
<g id="b2-3" class="n"><rect x="990" y="286.3" width="50" height="14" rx="7"/><text x="1015" y="293.3">Conversions</text></g>
<g id="b2-4" class="n"><rect x="990" y="357" width="50" height="14" rx="7"/><text x="1015" y="364">Old goals</text></g>
<g id="b2-5" class="n"><rect x="1061" y="126" width="50" height="14" rx="7"/><text x="1086" y="133">Ad impressions</text></g>
<g id="b2-6" class="n"><rect x="1061" y="144.7" width="50" height="14" rx="7"/><text x="1086" y="151.7">Video views</text></g>
<g id="b2-7" class="n"><rect x="1061" y="178" width="50" height="14" rx="7"/><text x="1086" y="185">Visits to my website</text></g>
<g id="b2-8" class="b"><rect x="1061" y="196.3" width="50" height="14" rx="7"/><text x="1086" y="203.3">Visits to location(s)</text></g>
<g id="b2-9" class="b"><rect x="1061" y="215" width="50" height="14" rx="7"/><text x="1086" y="222">Phone calls</text></g>
<g id="b2-10" class="b"><rect x="1061" y="259.7" width="50" height="14" rx="7"/><text x="1086" y="266.7">Website traffic</text></g>
<g id="b2-11" class="b"><rect x="1061" y="278" width="50" height="14" rx="7"/><text x="1086" y="285">Sell products online</text></g>
<g id="b2-12" class="b"><rect x="1061" y="296.7" width="50" height="14" rx="7"/><text x="1086" y="303.7">Promote your app</text></g>
<g id="b2-13" class="n"><rect x="1061" y="315.3" width="50" height="14" rx="7"/><text x="1086" y="322.3">Hotel bookings</text></g>
<g id="b2-14" class="w"><rect x="1061" y="357" width="50" height="14" rx="7"/><text x="1086" y="364">Choose campaign type</text></g>
<g id="b2-15" class="b"><rect x="1061" y="372.3" width="50" height="14" rx="7"/><text x="1086" y="379.3">Search</text></g>
<g id="b2-16" class="n"><rect x="1061" y="390.7" width="50" height="14" rx="7"/><text x="1086" y="397.7">Audience</text></g>
<g id="b2-17" class="o"><rect x="1061" y="430.7" width="50" height="14" rx="7"/><text x="1086" y="437.7">Performance Max</text></g>
<g id="b2-18" class="b"><rect x="1061" y="452.7" width="50" height="14" rx="7"/><text x="1086" y="459.7">Shopping</text></g>
<g id="b2-19" class="n"><rect x="1061" y="471" width="50" height="14" rx="7"/><text x="1086" y="478">Hotel</text></g>
<g id="b2-20" class="b"><rect x="1139" y="215" width="51" height="14" rx="7"/><text x="1164.5" y="222">Add conversion goals</text></g>
<g id="b2-21" class="b"><rect x="1139" y="278" width="51" height="14" rx="7"/><text x="1164.5" y="285">Add conversion goals</text></g>
<g id="b2-22" class="b"><rect x="1139" y="328" width="51" height="14" rx="7"/><text x="1164.5" y="335">Add conversion goals</text></g>
<g id="b2-23" class="n"><rect x="1139" y="372.3" width="51" height="14" rx="7"/><text x="1164.5" y="379.3">All audience ads</text></g>
<g id="b2-24" class="n"><rect x="1139" y="390.7" width="51" height="14" rx="7"/><text x="1164.5" y="397.7">Video</text></g>
<g id="b2-25" class="b"><rect x="1139" y="409.3" width="51" height="14" rx="7"/><text x="1164.5" y="416.3">Ad impressions</text></g>
<g id="b2-26" class="b"><rect x="1139" y="452.7" width="51" height="14" rx="7"/><text x="1164.5" y="459.7">Smart</text></g>
<g id="b2-27" class="b"><rect x="1139" y="471" width="51" height="14" rx="7"/><text x="1164.5" y="478">Search</text></g>
<g id="b2-28" class="b"><rect x="1139" y="489.7" width="51" height="14" rx="7"/><text x="1164.5" y="496.7">Audience</text></g>
<g id="b2-29" class="n"><rect x="1218" y="126" width="51" height="14" rx="7"/><text x="1243.5" y="133">Audience</text></g>
<g id="b2-30" class="n"><rect x="1218" y="144.7" width="51" height="14" rx="7"/><text x="1243.5" y="151.7">Audience</text></g>
<g id="b2-31" class="n"><rect x="1218" y="178" width="51" height="14" rx="7"/><text x="1243.5" y="185">Audience</text></g>
<g id="b2-32" class="o"><rect x="1218" y="196.3" width="51" height="14" rx="7"/><text x="1243.5" y="203.3">Performance Max</text></g>
<g id="b2-33" class="n"><rect x="1218" y="215" width="51" height="14" rx="7"/><text x="1243.5" y="222">Search</text></g>
<g id="b2-34" class="n"><rect x="1218" y="233.7" width="51" height="14" rx="7"/><text x="1243.5" y="240.7">Audience</text></g>
<g id="b2-35" class="n"><rect x="1218" y="259.7" width="51" height="14" rx="7"/><text x="1243.5" y="266.7">Smart</text></g>
<g id="b2-36" class="n"><rect x="1218" y="278" width="51" height="14" rx="7"/><text x="1243.5" y="285">Search</text></g>
<g id="b2-37" class="n"><rect x="1218" y="296.7" width="51" height="14" rx="7"/><text x="1243.5" y="303.7">Audience</text></g>
<g id="b2-38" class="o"><rect x="1218" y="315.3" width="51" height="14" rx="7"/><text x="1243.5" y="322.3">Performance Max</text></g>
<g id="b2-39" class="b"><rect x="1218" y="357" width="51" height="14" rx="7"/><text x="1243.5" y="364">Add conversion goals</text></g>
<g id="b2-40" class="b"><rect x="1218" y="409.3" width="51" height="14" rx="7"/><text x="1243.5" y="416.3">Add conversion goals</text></g>
<g id="b2-41" class="b"><rect x="1218" y="430.7" width="51" height="14" rx="7"/><text x="1243.5" y="437.7">Add conversion goals</text></g>
<g id="b2-42" class="b"><rect x="1218" y="452.7" width="51" height="14" rx="7"/><text x="1243.5" y="459.7">Add conversion goals</text></g>
<g id="b2-43" class="b"><rect x="1218" y="471" width="51" height="14" rx="7"/><text x="1243.5" y="478">Add conversion goals</text></g>
<g id="b2-44" class="b"><rect x="1218" y="489.7" width="51" height="14" rx="7"/><text x="1243.5" y="496.7">Add conversion goals</text></g>
<!-- B-2 legend -->
<g id="b2-l1" class="lg lp"><rect x="1420" y="107.2" width="51" height="15" rx="7.5"/><text x="1445.5" y="114.7">Audience</text></g>
<g id="b2-l2" class="lg lp"><rect x="1420" y="125.5" width="51" height="15" rx="7.5"/><text x="1445.5" y="133">Audience???</text></g>
<g id="b2-l3" class="lg lp"><rect x="1420" y="144.2" width="51" height="15" rx="7.5"/><text x="1445.5" y="151.7">Audience w/ video ads</text></g>
<g id="b2-l4" class="lg lb"><rect x="1420" y="170.2" width="51" height="15" rx="7.5"/><text x="1445.5" y="177.7">Search</text></g>
<g id="b2-l5" class="lg lr"><rect x="1420" y="195.8" width="51" height="15" rx="7.5"/><text x="1445.5" y="203.3">Performance Max</text></g>
<g id="b2-l6" class="lg lgn"><rect x="1420" y="221.5" width="51" height="15" rx="7.5"/><text x="1445.5" y="229">Smart shopping</text></g>
<g id="b2-l7" class="lg lgn"><rect x="1420" y="240.8" width="51" height="15" rx="7.5"/><text x="1445.5" y="248.3">Search Shopping</text></g>
<g id="b2-l8" class="lg lgn"><rect x="1420" y="259.8" width="51" height="15" rx="7.5"/><text x="1445.5" y="267.3">Audience shopping</text></g>
<g id="b2-l9" class="lg lo"><rect x="1420" y="285.8" width="51" height="15" rx="7.5"/><text x="1445.5" y="293.3">Hotel</text></g>

<!-- Flow B-3 nodes -->
<g id="b3-1" class="n"><rect x="1517" y="135.3" width="51" height="14" rx="7"/><text x="1542.5" y="142.3">Brand Awareness</text></g>
<g id="b3-2" class="n"><rect x="1517" y="196.3" width="51" height="14" rx="7"/><text x="1542.5" y="203.3">Leads</text></g>
<g id="b3-3" class="n"><rect x="1517" y="286.3" width="51" height="14" rx="7"/><text x="1542.5" y="293.3">Conversions</text></g>
<g id="b3-4" class="n"><rect x="1517" y="377" width="51" height="14" rx="7"/><text x="1542.5" y="384">Old goals</text></g>
<g id="b3-5" class="n"><rect x="1588" y="126" width="50" height="14" rx="7"/><text x="1613" y="133">Audience</text></g>
<g id="b3-6" class="n"><rect x="1588" y="144.7" width="50" height="14" rx="7"/><text x="1613" y="151.7">Video views</text></g>
<g id="b3-7" class="n"><rect x="1588" y="178" width="50" height="14" rx="7"/><text x="1613" y="185">Visits to my website</text></g>
<g id="b3-8" class="b"><rect x="1588" y="196.3" width="50" height="14" rx="7"/><text x="1613" y="203.3">Visits to location(s)</text></g>
<g id="b3-9" class="b"><rect x="1588" y="215" width="50" height="14" rx="7"/><text x="1613" y="222">Phone calls</text></g>
<g id="b3-10" class="b"><rect x="1588" y="259.7" width="50" height="14" rx="7"/><text x="1613" y="266.7">Website traffic</text></g>
<g id="b3-11" class="b"><rect x="1588" y="278" width="50" height="14" rx="7"/><text x="1613" y="285">Sell products online</text></g>
<g id="b3-12" class="b"><rect x="1588" y="296.7" width="50" height="14" rx="7"/><text x="1613" y="303.7">Promote your app</text></g>
<g id="b3-13" class="n"><rect x="1588" y="315.3" width="50" height="14" rx="7"/><text x="1613" y="322.3">Hotel bookings</text></g>
<g id="b3-14" class="w"><rect x="1588" y="377" width="50" height="14" rx="7"/><text x="1613" y="384">Choose campaign type</text></g>
<g id="b3-15" class="b"><rect x="1588" y="392.3" width="50" height="14" rx="7"/><text x="1613" y="399.3">Search</text></g>
<g id="b3-16" class="n"><rect x="1588" y="411" width="50" height="14" rx="7"/><text x="1613" y="418">Audience</text></g>
<g id="b3-17" class="o"><rect x="1588" y="451" width="50" height="14" rx="7"/><text x="1613" y="458">Performance Max</text></g>
<g id="b3-18" class="b"><rect x="1588" y="472.7" width="50" height="14" rx="7"/><text x="1613" y="479.7">Shopping</text></g>
<g id="b3-19" class="n"><rect x="1588" y="491.3" width="50" height="14" rx="7"/><text x="1613" y="498.3">Hotel</text></g>
<g id="b3-20" class="n"><rect x="1674" y="162.7" width="51" height="14" rx="7"/><text x="1699.5" y="169.7">Audience</text></g>
<g id="b3-21" class="o"><rect x="1674" y="196.3" width="51" height="14" rx="7"/><text x="1699.5" y="203.3">Performance Max</text></g>
<g id="b3-22" class="b"><rect x="1674" y="215" width="51" height="14" rx="7"/><text x="1699.5" y="222">Search</text></g>
<g id="b3-23" class="b"><rect x="1674" y="233.7" width="51" height="14" rx="7"/><text x="1699.5" y="240.7">Audience</text></g>
<g id="b3-24" class="o"><rect x="1674" y="259.7" width="51" height="14" rx="7"/><text x="1699.5" y="266.7">Performance Max</text></g>
<g id="b3-25" class="b"><rect x="1674" y="278" width="51" height="14" rx="7"/><text x="1699.5" y="285">Shopping</text></g>
<g id="b3-26" class="b"><rect x="1674" y="341.3" width="51" height="14" rx="7"/><text x="1699.5" y="348.3">Search</text></g>
<g id="b3-27" class="n"><rect x="1674" y="392.3" width="51" height="14" rx="7"/><text x="1699.5" y="399.3">All audience ads</text></g>
<g id="b3-28" class="n"><rect x="1674" y="411" width="51" height="14" rx="7"/><text x="1699.5" y="418">Video</text></g>
<g id="b3-29" class="b"><rect x="1674" y="429.3" width="51" height="14" rx="7"/><text x="1699.5" y="436.3">Ad impressions</text></g>
<g id="b3-30" class="b"><rect x="1674" y="472.7" width="51" height="14" rx="7"/><text x="1699.5" y="479.7">Smart</text></g>
<g id="b3-31" class="b"><rect x="1674" y="491.3" width="51" height="14" rx="7"/><text x="1699.5" y="498.3">Search</text></g>
<g id="b3-32" class="b"><rect x="1674" y="509.7" width="51" height="14" rx="7"/><text x="1699.5" y="516.7">Audience</text></g>
<g id="b3-33" class="b"><rect x="1767" y="196.3" width="50" height="14" rx="7"/><text x="1792" y="203.3">Add conversion goals</text></g>
<g id="b3-34" class="b"><rect x="1767" y="215" width="50" height="14" rx="7"/><text x="1792" y="222">Add conversion goals</text></g>
<g id="b3-35" class="b"><rect x="1767" y="233.7" width="50" height="14" rx="7"/><text x="1792" y="240.7">Add conversion goals</text></g>
<g id="b3-36" class="b"><rect x="1767" y="259.7" width="50" height="14" rx="7"/><text x="1792" y="266.7">Add conversion goals</text></g>
<g id="b3-37" class="b"><rect x="1767" y="278" width="50" height="14" rx="7"/><text x="1792" y="285">Add conversion goals</text></g>
<g id="b3-38" class="b"><rect x="1767" y="296.7" width="50" height="14" rx="7"/><text x="1792" y="303.7">Add conversion goals</text></g>
<g id="b3-39" class="b"><rect x="1767" y="315.3" width="50" height="14" rx="7"/><text x="1792" y="322.3">Add conversion goals</text></g>
<g id="b3-40" class="b"><rect x="1767" y="341.3" width="50" height="14" rx="7"/><text x="1792" y="348.3">Add conversion goals</text></g>
<g id="b3-41" class="b"><rect x="1767" y="375.7" width="50" height="14" rx="7"/><text x="1792" y="382.7">Add conversion goals</text></g>
<g id="b3-42" class="b"><rect x="1767" y="429.3" width="50" height="14" rx="7"/><text x="1792" y="436.3">Add conversion goals</text></g>
<g id="b3-43" class="b"><rect x="1767" y="451" width="50" height="14" rx="7"/><text x="1792" y="458">Add conversion goals</text></g>
<g id="b3-44" class="b"><rect x="1767" y="472.7" width="50" height="14" rx="7"/><text x="1792" y="479.7">Add conversion goals</text></g>
<g id="b3-45" class="b"><rect x="1767" y="491.3" width="50" height="14" rx="7"/><text x="1792" y="498.3">Add conversion goals</text></g>
<g id="b3-46" class="b"><rect x="1767" y="509.7" width="50" height="14" rx="7"/><text x="1792" y="516.7">Add conversion goals</text></g>
<!-- B-3 legend -->
<g id="b3-l1" class="lg lp"><rect x="1947" y="107.2" width="51" height="15" rx="7.5"/><text x="1972.5" y="114.7">Audience</text></g>
<g id="b3-l2" class="lg lp"><rect x="1947" y="125.5" width="51" height="15" rx="7.5"/><text x="1972.5" y="133">Audience???</text></g>
<g id="b3-l3" class="lg lp"><rect x="1947" y="144.2" width="51" height="15" rx="7.5"/><text x="1972.5" y="151.7">Audience w/ video ads</text></g>
<g id="b3-l4" class="lg lb"><rect x="1947" y="170.2" width="51" height="15" rx="7.5"/><text x="1972.5" y="177.7">Search</text></g>
<g id="b3-l5" class="lg lr"><rect x="1947" y="195.8" width="51" height="15" rx="7.5"/><text x="1972.5" y="203.3">Performance Max</text></g>
<g id="b3-l6" class="lg lgn"><rect x="1947" y="221.5" width="51" height="15" rx="7.5"/><text x="1972.5" y="229">Smart shopping</text></g>
<g id="b3-l7" class="lg lgn"><rect x="1947" y="240.8" width="51" height="15" rx="7.5"/><text x="1972.5" y="248.3">Search Shopping</text></g>
<g id="b3-l8" class="lg lgn"><rect x="1947" y="259.8" width="51" height="15" rx="7.5"/><text x="1972.5" y="267.3">Audience shopping</text></g>
<g id="b3-l9" class="lg lo"><rect x="1947" y="285.8" width="51" height="15" rx="7.5"/><text x="1972.5" y="293.3">Hotel</text></g>

<!-- Flow C nodes -->
<g id="c1" class="n"><rect x="2059" y="141.3" width="51" height="14" rx="7"/><text x="2084.5" y="148.3">Brand awareness</text></g>
<g id="c2" class="n"><rect x="2059" y="192" width="51" height="14" rx="7"/><text x="2084.5" y="199">Video views</text></g>
<g id="c3" class="b"><rect x="2059" y="218.3" width="51" height="14" rx="7"/><text x="2084.5" y="225.3">Website traffic</text></g>
<g id="c4" class="b"><rect x="2059" y="236.7" width="51" height="14" rx="7"/><text x="2084.5" y="243.7">Visits to location(s)</text></g>
<g id="c5" class="b"><rect x="2059" y="255.3" width="51" height="14" rx="7"/><text x="2084.5" y="262.3">Phone calls</text></g>
<g id="c6" class="b"><rect x="2059" y="299.3" width="51" height="14" rx="7"/><text x="2084.5" y="306.3">Sell products online</text></g>
<g id="c7" class="b"><rect x="2059" y="362.3" width="51" height="14" rx="7"/><text x="2084.5" y="369.3">Promote your app</text></g>
<g id="c8" class="n"><rect x="2059" y="392.3" width="51" height="14" rx="7"/><text x="2084.5" y="399.3">Hotel bookings</text></g>
<g id="c9" class="n"><rect x="2059" y="418.7" width="51" height="14" rx="7"/><text x="2084.5" y="425.7">Old goals</text></g>
<g id="c10" class="n"><rect x="2157" y="123" width="50" height="14" rx="7"/><text x="2182" y="130">Search</text></g>
<g id="c11" class="n"><rect x="2157" y="141.3" width="50" height="14" rx="7"/><text x="2182" y="148.3">Audience</text></g>
<g id="c12" class="n"><rect x="2157" y="160" width="50" height="14" rx="7"/><text x="2182" y="167">Video</text></g>
<g id="c13" class="n"><rect x="2157" y="192" width="50" height="14" rx="7"/><text x="2182" y="199">Video</text></g>
<g id="c14" class="o"><rect x="2157" y="218.3" width="50" height="14" rx="7"/><text x="2182" y="225.3">Performance Max</text></g>
<g id="c15" class="b"><rect x="2157" y="236.7" width="50" height="14" rx="7"/><text x="2182" y="243.7">Search</text></g>
<g id="c16" class="b"><rect x="2157" y="255.3" width="50" height="14" rx="7"/><text x="2182" y="262.3">Audience</text></g>
<g id="c17" class="o"><rect x="2157" y="281.3" width="50" height="14" rx="7"/><text x="2182" y="288.3">Performance Max</text></g>
<g id="c18" class="b"><rect x="2157" y="299.3" width="50" height="14" rx="7"/><text x="2182" y="306.3">Smart shopping</text></g>
<g id="c19" class="b"><rect x="2157" y="318" width="50" height="14" rx="7"/><text x="2182" y="325">Search Shopping</text></g>
<g id="c20" class="b"><rect x="2157" y="336.3" width="50" height="14" rx="7"/><text x="2182" y="343.3">Audience Shopping</text></g>
<g id="c21" class="b"><rect x="2157" y="362.3" width="50" height="14" rx="7"/><text x="2182" y="369.3">Search</text></g>
<g id="c22" class="b"><rect x="2229" y="218.3" width="51" height="14" rx="7"/><text class="st tiny" x="2232" y="225.3" textLength="18" lengthAdjust="spacingAndGlyphs">Add conversion goals</text></g>
<g id="c23" class="b"><rect x="2229" y="236.7" width="51" height="14" rx="7"/><text class="st tiny" x="2232" y="243.7" textLength="18" lengthAdjust="spacingAndGlyphs">Add conversion goals</text></g>
<g id="c24" class="b"><rect x="2229" y="255.3" width="51" height="14" rx="7"/><text class="st tiny" x="2232" y="262.3" textLength="18" lengthAdjust="spacingAndGlyphs">Add conversion goals</text></g>
<g id="c25" class="b"><rect x="2229" y="281.3" width="51" height="14" rx="7"/><text class="st tiny" x="2232" y="288.3" textLength="18" lengthAdjust="spacingAndGlyphs">Add conversion goals</text></g>
<g id="c26" class="b"><rect x="2229" y="299.3" width="51" height="14" rx="7"/><text class="st tiny" x="2232" y="306.3" textLength="18" lengthAdjust="spacingAndGlyphs">Add conversion goals</text></g>
<g id="c27" class="b"><rect x="2229" y="318" width="51" height="14" rx="7"/><text class="st tiny" x="2232" y="325" textLength="18" lengthAdjust="spacingAndGlyphs">Add conversion goals</text></g>
<g id="c28" class="b"><rect x="2229" y="336.3" width="51" height="14" rx="7"/><text class="st tiny" x="2232" y="343.3" textLength="18" lengthAdjust="spacingAndGlyphs">Add conversion goals</text></g>
<g id="c29" class="b"><rect x="2229" y="362.3" width="51" height="14" rx="7"/><text class="st tiny" x="2232" y="369.3" textLength="18" lengthAdjust="spacingAndGlyphs">Add conversion goals</text></g>
<g id="c30" class="w"><rect x="2138" y="418.7" width="50" height="14" rx="7"/><text x="2163" y="425.7">Choose campaign type</text></g>
<g id="c31" class="b"><rect x="2138" y="434" width="50" height="14" rx="7"/><text x="2163" y="441">Search</text></g>
<g id="c32" class="n"><rect x="2138" y="453" width="50" height="14" rx="7"/><text x="2163" y="460">Audience</text></g>
<g id="c33" class="n"><rect x="2138" y="474" width="50" height="14" rx="7"/><text x="2163" y="481">Video</text></g>
<g id="c34" class="o"><rect x="2138" y="492.7" width="50" height="14" rx="7"/><text x="2163" y="499.7">Performance Max</text></g>
<g id="c35" class="b"><rect x="2138" y="514" width="50" height="14" rx="7"/><text x="2163" y="521">Shopping</text></g>
<g id="c36" class="n"><rect x="2138" y="532.3" width="50" height="14" rx="7"/><text x="2163" y="539.3">Hotel</text></g>
<g id="c37" class="n"><rect x="2217" y="453" width="51" height="14" rx="7"/><text class="st sm" x="2222" y="460">All audience ads</text></g>
<g id="c38" class="b"><rect x="2217" y="514" width="51" height="14" rx="7"/><text x="2240" y="521">Smart</text></g>
<g id="c39" class="b"><rect x="2217" y="532.3" width="51" height="14" rx="7"/><text x="2240" y="539.3">Search</text></g>
<g id="c40" class="b"><rect x="2217" y="551" width="51" height="14" rx="7"/><text x="2240" y="558">Audience</text></g>
</svg>
